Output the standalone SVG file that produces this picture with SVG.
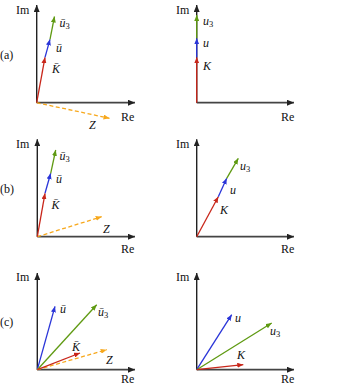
<svg xmlns="http://www.w3.org/2000/svg" width="340" height="386" viewBox="0 0 340 386">
<style>
text{font-family:"Liberation Serif","Times New Roman",serif;font-size:12px;fill:#111}
.v{font-style:italic}
.ax{stroke:#222;stroke-width:1.4;fill:none}
.re{stroke:#444;stroke-width:1.8;fill:none}
.r{stroke:#c8261a;stroke-width:1.3;fill:none}
.b{stroke:#2a35d8;stroke-width:1.3;fill:none}
.g{stroke:#5f9a12;stroke-width:1.3;fill:none}
.o{stroke:#f7a81c;stroke-width:1.3;fill:none;stroke-dasharray:4 2.5}
</style>
<defs>
<marker id="mk" markerUnits="userSpaceOnUse" markerWidth="8" markerHeight="6" refX="7" refY="3" orient="auto"><path d="M0,0 L7,3 L0,6 z" fill="#222"/></marker>
<marker id="mr" markerUnits="userSpaceOnUse" markerWidth="7" markerHeight="5" refX="6" refY="2.5" orient="auto"><path d="M0,0 L6,2.5 L0,5 z" fill="#c8261a"/></marker>
<marker id="mb" markerUnits="userSpaceOnUse" markerWidth="7" markerHeight="5" refX="6" refY="2.5" orient="auto"><path d="M0,0 L6,2.5 L0,5 z" fill="#2a35d8"/></marker>
<marker id="mg" markerUnits="userSpaceOnUse" markerWidth="7" markerHeight="5" refX="6" refY="2.5" orient="auto"><path d="M0,0 L6,2.5 L0,5 z" fill="#5f9a12"/></marker>
<marker id="mo" markerUnits="userSpaceOnUse" markerWidth="7" markerHeight="5" refX="6" refY="2.5" orient="auto"><path d="M0,0 L6,2.5 L0,5 z" fill="#f7a81c"/></marker>
</defs>

<g id="connectors">
<line class="ax" x1="36.7" y1="102.7" x2="36.7" y2="5" marker-end="url(#mk)"/>
<line class="re" x1="36.7" y1="102.7" x2="135" y2="102.7" marker-end="url(#mk)"/>
<line class="o" x1="36.7" y1="102.7" x2="109.5" y2="118.3" marker-end="url(#mo)"/>
<line class="r" x1="36.7" y1="102.7" x2="45" y2="57.3" marker-end="url(#mr)"/>
<line class="b" x1="45" y1="57.3" x2="50" y2="39.3" marker-end="url(#mb)"/>
<line class="g" x1="50" y1="39.3" x2="54.5" y2="16.5" marker-end="url(#mg)"/>
<line class="ax" x1="196.7" y1="102.7" x2="196.7" y2="5" marker-end="url(#mk)"/>
<line class="re" x1="196.7" y1="102.7" x2="294" y2="102.7" marker-end="url(#mk)"/>
<line class="r" x1="196.7" y1="102.7" x2="196.7" y2="57.3" marker-end="url(#mr)"/>
<line class="b" x1="196.7" y1="57.3" x2="196.7" y2="38.3" marker-end="url(#mb)"/>
<line class="g" x1="196.7" y1="38.3" x2="196.7" y2="15" marker-end="url(#mg)"/>
<line class="ax" x1="37.3" y1="236.7" x2="37.3" y2="139.3" marker-end="url(#mk)"/>
<line class="re" x1="37.3" y1="236.7" x2="135" y2="236.7" marker-end="url(#mk)"/>
<line class="o" x1="37.3" y1="236.7" x2="101.7" y2="216.7" marker-end="url(#mo)"/>
<line class="r" x1="37.3" y1="236.7" x2="45" y2="193.3" marker-end="url(#mr)"/>
<line class="b" x1="45" y1="193.3" x2="50.7" y2="173.3" marker-end="url(#mb)"/>
<line class="g" x1="50.7" y1="173.3" x2="55.7" y2="150" marker-end="url(#mg)"/>
<line class="ax" x1="196.7" y1="236.7" x2="196.7" y2="139.3" marker-end="url(#mk)"/>
<line class="re" x1="196.7" y1="236.7" x2="294" y2="236.7" marker-end="url(#mk)"/>
<line class="r" x1="196.7" y1="236.7" x2="218.3" y2="196.7" marker-end="url(#mr)"/>
<line class="b" x1="218.3" y1="196.7" x2="226.7" y2="178.3" marker-end="url(#mb)"/>
<line class="g" x1="226.7" y1="178.3" x2="238.3" y2="158.3" marker-end="url(#mg)"/>
<line class="ax" x1="37.3" y1="369.7" x2="37.3" y2="273" marker-end="url(#mk)"/>
<line class="re" x1="37.3" y1="369.7" x2="135" y2="369.7" marker-end="url(#mk)"/>
<line class="b" x1="37.3" y1="369.7" x2="55" y2="306.3" marker-end="url(#mb)"/>
<line class="g" x1="37.3" y1="369.7" x2="96.7" y2="304.7" marker-end="url(#mg)"/>
<line class="o" x1="37.3" y1="369.7" x2="106.7" y2="349.7" marker-end="url(#mo)"/>
<line class="r" x1="37.3" y1="369.7" x2="80" y2="353" marker-end="url(#mr)"/>
<line class="ax" x1="196.7" y1="369.7" x2="196.7" y2="273" marker-end="url(#mk)"/>
<line class="re" x1="196.7" y1="369.7" x2="294" y2="369.7" marker-end="url(#mk)"/>
<line class="b" x1="196.7" y1="369.7" x2="231.7" y2="314.7" marker-end="url(#mb)"/>
<line class="g" x1="196.7" y1="369.7" x2="271.7" y2="323" marker-end="url(#mg)"/>
<line class="r" x1="196.7" y1="369.7" x2="243.3" y2="364.7" marker-end="url(#mr)"/>
</g>

<g id="panel-a-left">
<text x="16" y="14">Im</text>
<text x="121" y="121">Re</text>
<text x="0" y="59">(a)</text>
<text class="v" x="52" y="73">K̄</text>
<text class="v" x="56" y="52">ū</text>
<text class="v" x="59.5" y="27">ū<tspan font-size="8.5" dy="2" font-style="normal">3</tspan></text>
<text class="v" x="89" y="129">Z</text>
</g>
<g id="panel-a-right">
<text x="176" y="14">Im</text>
<text x="281" y="121">Re</text>
<text class="v" x="203" y="70">K</text>
<text class="v" x="203" y="47">u</text>
<text class="v" x="203" y="25">u<tspan font-size="8.5" dy="2" font-style="normal">3</tspan></text>
</g>
<g id="panel-b-left">
<text x="16" y="148">Im</text>
<text x="121" y="253">Re</text>
<text x="0" y="193">(b)</text>
<text class="v" x="51.5" y="209">K̄</text>
<text class="v" x="56" y="183">ū</text>
<text class="v" x="59.5" y="160">ū<tspan font-size="8.5" dy="2" font-style="normal">3</tspan></text>
<text class="v" x="103" y="233">Z</text>
</g>
<g id="panel-b-right">
<text x="176" y="148">Im</text>
<text x="281" y="253">Re</text>
<text class="v" x="220" y="214">K</text>
<text class="v" x="230" y="194">u</text>
<text class="v" x="240" y="170">u<tspan font-size="8.5" dy="2" font-style="normal">3</tspan></text>
</g>
<g id="panel-c-left">
<text x="16" y="281">Im</text>
<text x="121" y="383">Re</text>
<text x="0" y="326">(c)</text>
<text class="v" x="60" y="313">ū</text>
<text class="v" x="98" y="316">ū<tspan font-size="8.5" dy="2" font-style="normal">3</tspan></text>
<text class="v" x="72" y="351">K̄</text>
<text class="v" x="106" y="364">Z</text>
</g>
<g id="panel-c-right">
<text x="176" y="281">Im</text>
<text x="281" y="383">Re</text>
<text class="v" x="235" y="322">u</text>
<text class="v" x="270" y="335">u<tspan font-size="8.5" dy="2" font-style="normal">3</tspan></text>
<text class="v" x="237" y="359">K</text>
</g>
</svg>
